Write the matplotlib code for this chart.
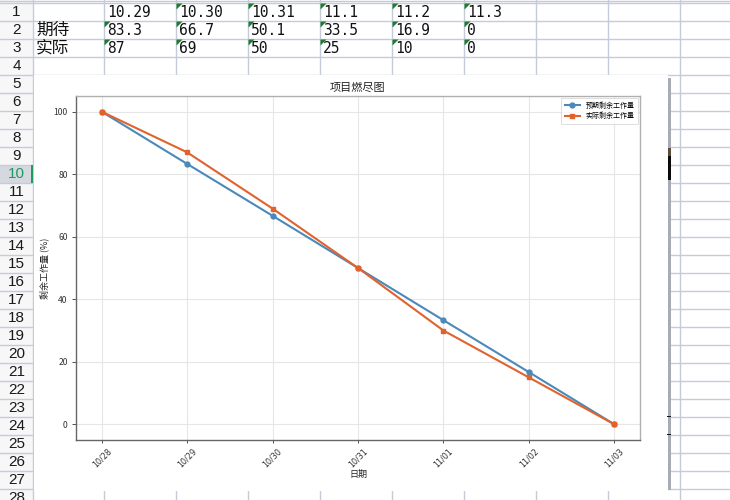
import matplotlib
matplotlib.use("Agg")
import matplotlib.pyplot as plt
from matplotlib.patches import Rectangle, Polygon

# ---------------- data ----------------
table_dates = ['10.29', '10.30', '10.31', '11.1', '11.2', '11.3']
table_expected = ['83.3', '66.7', '50.1', '33.5', '16.9', '0']
table_actual = ['87', '69', '50', '25', '10', '0']
row_names = ['期待', '实际']

chart_dates = ['10/28', '10/29', '10/30', '10/31', '11/01', '11/02', '11/03']
expected = [100, 83.3, 66.7, 50, 33.3, 16.7, 0]
actual = [100, 87, 69, 50, 30, 15, 0]
series_labels = ['预期剩余工作量', '实际剩余工作量']

plt.rcParams['font.family'] = ['Noto Sans CJK SC', 'DejaVu Sans']

W, H = 730, 500
fig = plt.figure(figsize=(7.3, 5.0), dpi=100)

# ---------------- spreadsheet background ----------------
bg = fig.add_axes([0, 0, 1, 1], zorder=0)
bg.set_xlim(0, W)
bg.set_ylim(H, 0)
bg.axis('off')

grid_c = '#c6cbdb'
header_w = 33
col_lines = [33, 104, 176, 248, 320, 392, 464, 536, 608, 680]
row_h = 18
row_top0 = 3

# header background
bg.add_patch(Rectangle((0, 0), header_w, H, facecolor='#f7f7f8', edgecolor='none', zorder=0))
# selected row 10
sel_top = row_top0 + row_h * 9
bg.add_patch(Rectangle((0, sel_top), header_w, row_h, facecolor='#d5d8df', edgecolor='none', zorder=1))
bg.add_patch(Rectangle((header_w - 2.5, sel_top), 2.5, row_h, facecolor='#1f9a63', edgecolor='none', zorder=3))

# horizontal lines
for k in range(30):
    y = row_top0 + row_h * k
    bg.plot([0, W], [y, y], color=grid_c, lw=1.0, zorder=2)
bg.plot([0, W], [0.5, 0.5], color=grid_c, lw=1.0, zorder=2)
# vertical lines
for x in col_lines:
    bg.plot([x, x], [0, H], color=grid_c, lw=1.0, zorder=2)

# row numbers
for n in range(1, 29):
    yc = row_top0 + row_h * (n - 1) + row_h / 2 + 0.5
    bg.text(header_w / 2, yc, str(n), ha='center', va='center',
            fontsize=11, family='Liberation Sans',
            color='#1f9a63' if n == 10 else '#1a1a1a', zorder=4)

# table contents
num_font = dict(fontsize=10.5, family='DejaVu Sans Mono', color='#111111')
rows_vals = [table_dates, table_expected, table_actual]
for r, vals in enumerate(rows_vals):
    yc = row_top0 + row_h * r + row_h / 2 + 0.5
    for c, v in enumerate(vals):
        bg.text(col_lines[c + 1] + 3, yc, v, ha='left', va='center', zorder=4, **num_font)
for r, name in enumerate(row_names):
    yc = row_top0 + row_h * (r + 1) + row_h / 2
    bg.text(col_lines[0] + 3, yc, name, ha='left', va='center', fontsize=12,
            family=['Noto Sans CJK SC', 'DejaVu Sans'], color='#111111', zorder=4)

# green "number as text" markers
tri_c = '#1e7b34'
cells = [(0, c) for c in range(1, 6)] + [(1, c) for c in range(6)] + [(2, c) for c in range(6)]
for r, c in cells:
    x0 = col_lines[c + 1] + 0.5
    y0 = row_top0 + row_h * r + 0.5
    bg.add_patch(Polygon([(x0, y0), (x0 + 6, y0), (x0, y0 + 6)], closed=True,
                         facecolor=tri_c, edgecolor='none', zorder=5))

# embedded chart picture area
bg.add_patch(Rectangle((34, 75), 668 - 34, 491 - 75, facecolor='white', edgecolor='none', zorder=6))
bg.add_patch(Rectangle((667.5, 78), 3, 412, facecolor='#a6abb6', edgecolor='none', zorder=7))
bg.add_patch(Rectangle((667.5, 148), 3, 8, facecolor='#5b4b3b', edgecolor='none', zorder=8))
bg.add_patch(Rectangle((667.5, 156), 3, 24, facecolor='#0a0a0a', edgecolor='none', zorder=8))
for yy in (416, 434):
    bg.add_patch(Rectangle((666.5, yy), 4, 1.2, facecolor='#111111', edgecolor='none', zorder=8))

# ---------------- chart ----------------
ax = fig.add_axes([76 / W, 1 - 440 / H, (640 - 76) / W, (440 - 96) / H], zorder=10)
xs = list(range(len(chart_dates)))
blue = '#4a89b9'
orange = '#e0632d'
ax.plot(xs, expected, color=blue, lw=1.5, marker='o', markersize=3.5, label=series_labels[0], zorder=3)
ax.plot(xs, actual, color=orange, lw=1.5, marker='s', markersize=3.5, label=series_labels[1], zorder=4)

ax.set_xticks(xs)
ax.set_xticklabels(chart_dates, rotation=45, fontsize=5.8, family='DejaVu Sans', color='#333333')
ax.set_yticks([0, 20, 40, 60, 80, 100])
ax.tick_params(axis='y', labelsize=6.2, colors='#333333', length=3, width=0.6, pad=3)
ax.tick_params(axis='x', length=2.5, width=0.6, colors='#333333', pad=2)
ax.grid(True, color='#e6e6e6', lw=0.8)
ax.set_axisbelow(True)
for s in ['left', 'bottom']:
    ax.spines[s].set_color('#666666')
for s in ['top', 'right']:
    ax.spines[s].set_color('#b0b0b0')
for s in ax.spines.values():
    s.set_linewidth(1.0)

ax.set_title('项目燃尽图', fontsize=8, color='#222222', pad=4)
ax.set_xlabel('日期', fontsize=6.5, color='#222222', labelpad=1)
ax.set_ylabel('剩余工作量 (%)', fontsize=6.5, color='#222222', labelpad=3)
leg = ax.legend(loc='upper right', fontsize=5, frameon=True, handlelength=2.2,
                borderpad=0.5, labelspacing=0.4, fancybox=False, borderaxespad=0.3)
leg.get_frame().set_edgecolor('#d0d0d0')
leg.get_frame().set_linewidth(0.6)

fig.savefig('out.png', dpi=100)
